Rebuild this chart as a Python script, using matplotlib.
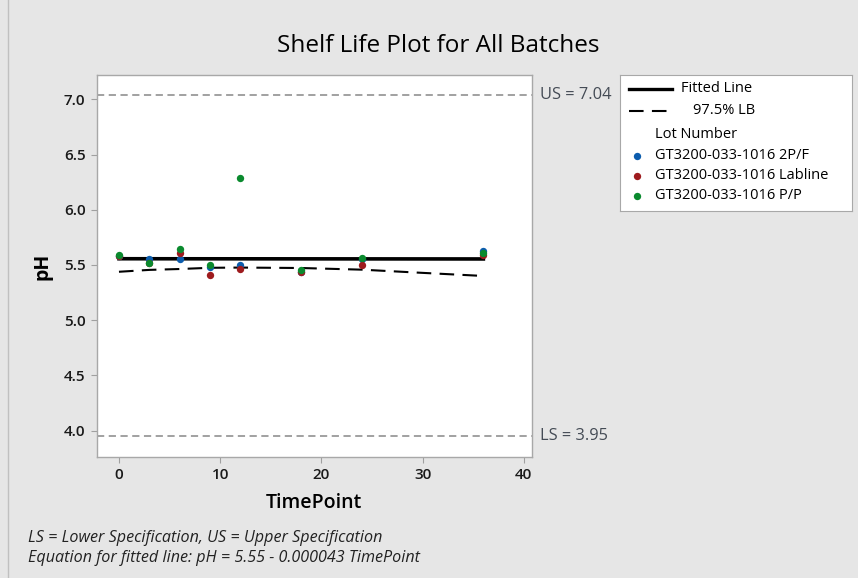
import matplotlib
matplotlib.use("Agg")
import matplotlib.pyplot as plt
from matplotlib.lines import Line2D

# dados
tempos = [0, 3, 6, 9, 12, 18, 24, 36]
ph_2pf = [5.58, 5.55, 5.55, 5.48, 5.50, 5.44, 5.55, 5.63]
ph_lab = [5.58, 5.52, 5.61, 5.41, 5.46, 5.44, 5.50, 5.59]
ph_pp = [5.59, 5.52, 5.64, 5.50, 6.29, 5.45, 5.56, 5.61]

lotes = ["GT3200-033-1016 2P/F", "GT3200-033-1016 Labline", "GT3200-033-1016 P/P"]
cores = ["#0b5cad", "#9e1b1e", "#0a8a2e"]

fit_t = [0, 36]
fit_ph = [5.556, 5.554]

lb_t = [0, 3, 6, 9, 12, 18, 24, 30, 36]
lb_ph = [5.438, 5.455, 5.463, 5.474, 5.476, 5.472, 5.457, 5.428, 5.400]

us = 7.04
ls = 3.95

plt.rcParams['font.family'] = ['Open Sans', 'DejaVu Sans']
bg = "#e6e6e6"

fig = plt.figure(figsize=(8.58, 5.78), dpi=100, facecolor=bg)
ax = fig.add_axes([0.1127, 0.2093, 0.5073, 0.6609])
ax.set_facecolor("white")

ax.axhline(us, color="#9a9a9a", lw=1.3, dashes=(4, 2.5))
ax.axhline(ls, color="#9a9a9a", lw=1.3, dashes=(4, 2.5))

ax.plot(fit_t, fit_ph, color="black", lw=2.6, zorder=3)
ax.plot(lb_t, lb_ph, color="black", lw=1.5, dashes=(7, 4), zorder=3)

for serie, cor in zip([ph_2pf, ph_lab, ph_pp], cores):
    ax.scatter(tempos, serie, s=28, color=cor, zorder=4, linewidths=0)

ax.set_xlim(-2.2, 40.8)
ax.set_ylim(3.76, 7.22)
ax.set_xticks([0, 10, 20, 30, 40])
ax.set_yticks([4.0, 4.5, 5.0, 5.5, 6.0, 6.5, 7.0])
ax.set_yticklabels(["4.0", "4.5", "5.0", "5.5", "6.0", "6.5", "7.0"])
ax.tick_params(axis="both", direction="out", length=4, color="#a0a0a0",
               labelsize=11, labelcolor="#1a1a1a", pad=4)
for lab in ax.get_xticklabels() + ax.get_yticklabels():
    lab.set_fontweight("semibold")
for s in ax.spines.values():
    s.set_color("#a8a8a8")
    s.set_linewidth(1)

ax.set_xlabel("TimePoint", fontsize=14, fontweight="semibold", labelpad=8)
ax.set_ylabel("pH", fontsize=14, fontweight="bold", labelpad=8)

fig.text(0.5105, 0.921, "Shelf Life Plot for All Batches", ha="center", va="center",
         fontsize=17.5, fontweight="medium", color="black")

ax.text(1.018, us, "US = 7.04", transform=ax.get_yaxis_transform(), va="center",
        ha="left", fontsize=11.8, color="#444b55")
ax.text(1.018, ls, "LS = 3.95", transform=ax.get_yaxis_transform(), va="center",
        ha="left", fontsize=11.8, color="#444b55")

fig.text(28 / 858, 1 - 538 / 578, "LS = Lower Specification, US = Upper Specification",
         fontsize=11.6, style="italic", va="center", color="#222222")
fig.text(28 / 858, 1 - 558 / 578, "Equation for fitted line: pH = 5.55 - 0.000043 TimePoint",
         fontsize=11.6, style="italic", va="center", color="#222222")

# legenda montada a mao
lg = fig.add_axes([620 / 858, 1 - 211 / 578, 232 / 858, 136 / 578])
lg.set_xlim(0, 232)
lg.set_ylim(136, 0)
lg.set_xticks([])
lg.set_yticks([])
for s in lg.spines.values():
    s.set_color("#a8a8a8")
lg.add_line(Line2D([9, 52], [14, 14], color="black", lw=2.4))
lg.add_line(Line2D([9, 50], [36, 36], color="black", lw=1.5, dashes=(7, 4)))
lg.text(61, 14, "Fitted Line", va="center", fontsize=10.5)
lg.text(73, 36, "97.5% LB", va="center", fontsize=10.5)
lg.text(35, 60, "Lot Number", va="center", fontsize=10.5)
for i, (nome, cor) in enumerate(zip(lotes, cores)):
    y = 81 + i * 20
    lg.scatter([17], [y], s=28, color=cor, linewidths=0)
    lg.text(35, y, nome, va="center", fontsize=10.5)

fig.add_artist(Line2D([8 / 858, 8 / 858], [0, 1], color="#c0c0c0", lw=1))

fig.savefig("out.png", dpi=100, facecolor=bg)
